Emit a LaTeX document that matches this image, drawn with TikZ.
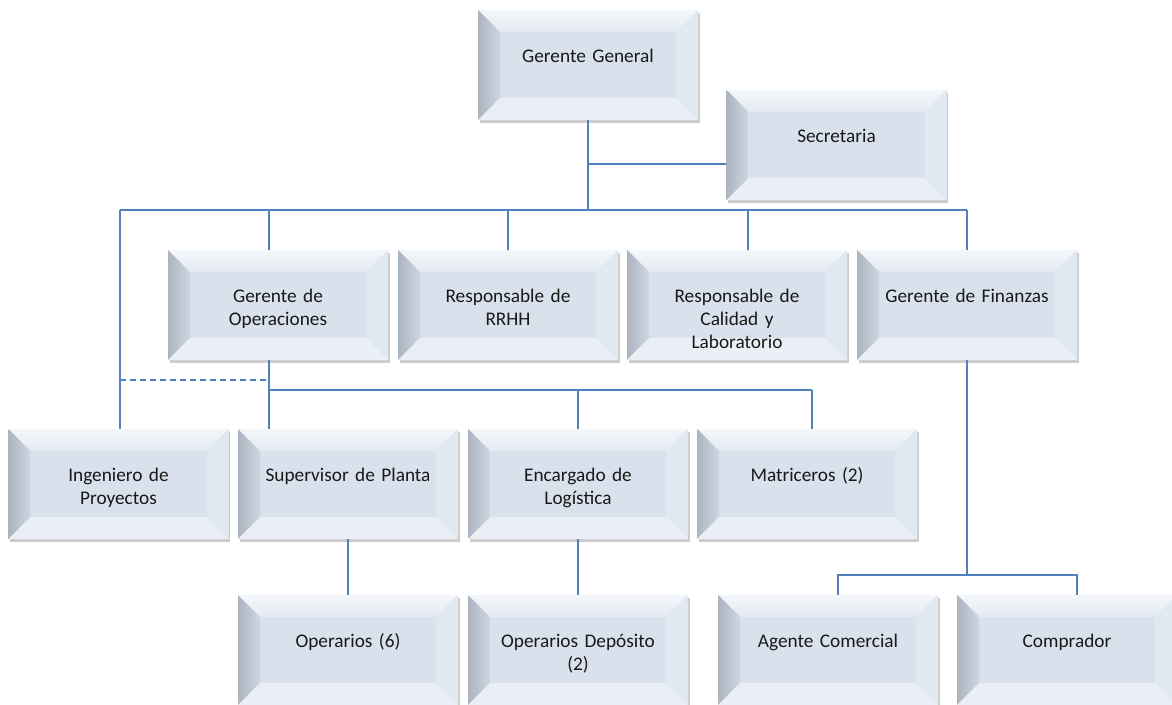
\documentclass[tikz,border=0pt]{standalone}
\usepackage{fontspec}
\setmainfont{Carlito}
\usetikzlibrary{positioning}
\usetikzlibrary{shadows}
\definecolor{face}{RGB}{216,225,236}
\definecolor{btop}{RGB}{244,247,250}
\definecolor{btopin}{RGB}{228,234,242}
\definecolor{bleft}{RGB}{172,180,191}
\definecolor{bleftin}{RGB}{206,214,225}
\definecolor{bright}{RGB}{224,232,241}
\definecolor{bbot}{RGB}{234,239,245}
\definecolor{conn}{RGB}{79,129,189}
\definecolor{txt}{RGB}{25,25,25}

\tikzset{
  orgbox/.style={rectangle, minimum width=220pt, minimum height=110pt, inner sep=0pt,
    fill=face, text=txt, text width=205pt, align=center,
    text height=16pt, text depth=22pt,
    font=\fontsize{19.3}{23}\selectfont,
    drop shadow={shadow xshift=1.5pt, shadow yshift=-2.5pt, opacity=0.4},
    path picture={
      \path (path picture bounding box.north west) coordinate (a)
            (path picture bounding box.north east) coordinate (b)
            (path picture bounding box.south east) coordinate (c)
            (path picture bounding box.south west) coordinate (d);
      \shade[top color=btop, bottom color=btopin] (a) -- (b) -- ([shift={(-22pt,-22pt)}]b) -- ([shift={(22pt,-22pt)}]a) -- cycle;
      \shade[left color=bleft, right color=bleftin] (a) -- ([shift={(22pt,-22pt)}]a) -- ([shift={(22pt,22pt)}]d) -- (d) -- cycle;
      \fill[bright] (b) -- (c) -- ([shift={(-22pt,22pt)}]c) -- ([shift={(-22pt,-22pt)}]b) -- cycle;
      \fill[bbot] (d) -- (c) -- ([shift={(-22pt,22pt)}]c) -- ([shift={(22pt,22pt)}]d) -- cycle;
    }},
  link/.style={line width=1.6pt, color=conn}
}

\begin{document}
\begin{tikzpicture}[x=1pt, y=-1pt]
\useasboundingbox (0,0) rectangle (1172,704);
% top
\node (gg) [orgbox] at (588,65) {Gerente General};
\node (sec) [orgbox] at (836.5,145) {Secretaria};
% second row
\node (gop) [orgbox] at (278,305) {Gerente de\\Operaciones};
\node (rrhh) [orgbox] at (508,305) {Responsable de\\RRHH};
\node (cal) [orgbox] at (737,305) {Responsable de\\Calidad y\\Laboratorio};
\node (fin) [orgbox] at (967,305) {Gerente de Finanzas};
% third row
\node (ing) [orgbox] at (118.5,484) {Ingeniero de\\Proyectos};
\node (sup) [orgbox] at (348,484) {Supervisor de Planta};
\node (enc) [orgbox] at (578,484) {Encargado de\\Log\'istica};
\node (mat) [orgbox] at (807,484) {Matriceros (2)};
% fourth row
\node (op) [orgbox] at (348,650) {Operarios (6)};
\node (opd) [orgbox] at (578,650) {Operarios Dep\'osito\\(2)};
\node (age) [orgbox] at (828,650) {Agente Comercial};
\node (com) [orgbox] at (1067,650) {Comprador};

\coordinate (busL) at (120,210);
\coordinate (opbus) at (269,390);
\coordinate (dashL) at (120,380);
\coordinate (finbus) at (967,575);
\coordinate (secin) at ([yshift=-19pt]sec.west);
\coordinate (gopup) at ([xshift=-9pt]gop.north);
\coordinate (gopdn) at ([xshift=-9pt]gop.south);
\coordinate (calup) at ([xshift=11pt]cal.north);
\coordinate (matup) at ([xshift=5pt]mat.north);
\coordinate (ageup) at ([xshift=10pt]age.north);
\coordinate (comup) at ([xshift=10pt]com.north);

\draw [link] (busL) -- (busL -| fin.north);
\draw [link] (gg.south) -- (gg.south |- busL);
\draw [link] (gg.south |- secin) -- (secin);
\draw [link] (gopup |- busL) -- (gopup);
\draw [link] (rrhh.north |- busL) -- (rrhh.north);
\draw [link] (calup |- busL) -- (calup);
\draw [link] (fin.north |- busL) -- (fin.north);
\draw [link] (busL) -- (busL |- ing.north);
\draw [link] (gopdn) -- (gopdn |- sup.north);
\draw [link, dash pattern=on 6pt off 4pt] (dashL) -- (dashL -| opbus);
\draw [link] (opbus) -- (opbus -| matup);
\draw [link] (enc.north |- opbus) -- (enc.north);
\draw [link] (matup |- opbus) -- (matup);
\draw [link] (sup.south) -- (op.north);
\draw [link] (enc.south) -- (opd.north);
\draw [link] (fin.south) -- (finbus);
\draw [link] (ageup) |- (finbus) -| (comup);
\end{tikzpicture}
\end{document}
